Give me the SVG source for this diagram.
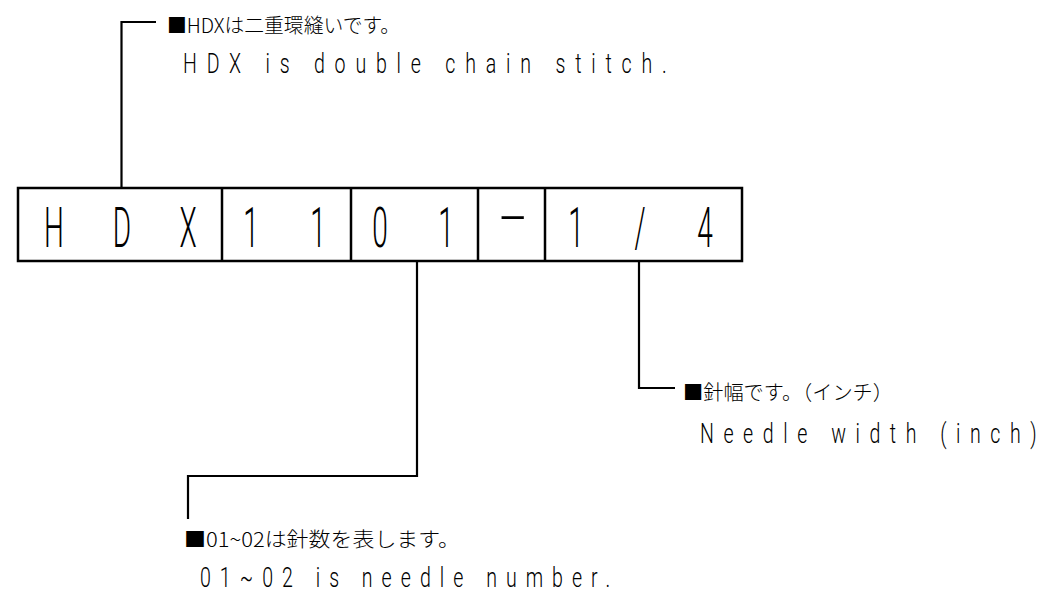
<svg xmlns="http://www.w3.org/2000/svg" width="1039" height="592" viewBox="0 0 1039 592">
<style>
.bg{fill:#ffffff}
.box{fill:none;stroke:#000;stroke-width:2.5}
.div{stroke:#000;stroke-width:2.5}
.con{fill:none;stroke:#000;stroke-width:2.2}
.big{font-family:Roboto,"Liberation Sans",sans-serif;font-weight:300;font-size:56px;fill:#000;text-anchor:middle}
.en{font-family:Roboto,"Liberation Sans",sans-serif;font-weight:300;font-size:28px;fill:#000}
.jp{font-family:"Noto Sans CJK JP",sans-serif;font-weight:300;font-size:20px;fill:#000}
</style>
<rect class="bg" x="0" y="0" width="1039" height="592"/>
<g id="code-box">
  <rect class="box" x="18" y="188" width="724" height="73"/>
  <line class="div" x1="222" y1="188" x2="222" y2="261"/>
  <line class="div" x1="351" y1="188" x2="351" y2="261"/>
  <line class="div" x1="478" y1="188" x2="478" y2="261"/>
  <line class="div" x1="545" y1="188" x2="545" y2="261"/>
  <text class="big" transform="translate(54,247) scale(0.5,1)">H</text>
  <text class="big" transform="translate(122,247) scale(0.5,1)">D</text>
  <text class="big" transform="translate(188,247) scale(0.5,1)">X</text>
  <text class="big" transform="translate(251,247) scale(0.5,1)">1</text>
  <text class="big" transform="translate(318,247) scale(0.5,1)">1</text>
  <text class="big" transform="translate(380,247) scale(0.5,1)">0</text>
  <text class="big" transform="translate(446,247) scale(0.5,1)">1</text>
  <text class="big" transform="translate(513,235) scale(1.7,1)">-</text>
  <text class="big" transform="translate(576,247) scale(0.5,1)">1</text>
  <text class="big" transform="translate(640,247) scale(0.5,1)">/</text>
  <text class="big" transform="translate(705,247) scale(0.5,1)">4</text>
</g>
<g id="connectors">
  <polyline class="con" points="121.5,188 121.5,22 156,22"/>
  <polyline class="con" points="417,261 417,476 188,476 188,519"/>
  <polyline class="con" points="639,261 639,388 675,388"/>
</g>
<g id="note-hdx">
  <text class="jp" x="167" y="33" textLength="233" lengthAdjust="spacingAndGlyphs">■HDXは二重環縫いです。</text>
  <text class="en" transform="translate(183,73) scale(0.7,1)" textLength="691" lengthAdjust="spacing">HDX is double chain stitch.</text>
</g>
<g id="note-width">
  <text class="jp" x="683" y="400" textLength="210" lengthAdjust="spacingAndGlyphs">■針幅です。（インチ）</text>
  <text class="en" transform="translate(700,443) scale(0.7,1)" textLength="481" lengthAdjust="spacing">Needle width (inch)</text>
</g>
<g id="note-needle">
  <text class="jp" x="184" y="547" textLength="276" lengthAdjust="spacingAndGlyphs">■01~02は針数を表します。</text>
  <text class="en" transform="translate(200,587) scale(0.7,1)" textLength="586" lengthAdjust="spacing">01~02 is needle number.</text>
</g>
</svg>
